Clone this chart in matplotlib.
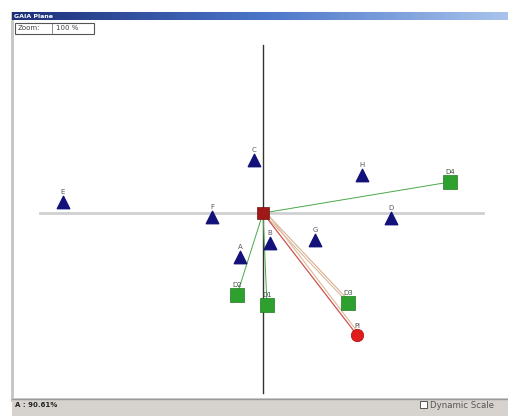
import numpy as np
import matplotlib
matplotlib.use("Agg")
import matplotlib.pyplot as plt
from matplotlib.patches import Rectangle
from matplotlib.colors import LinearSegmentedColormap

# GAIA plane coordinates (arbitrary plane units)
criteria = ["A", "B", "C", "D", "E", "F", "G", "H"]
crit_x = [-23, 7, -9, 128, -200, -51, 52, 99]
crit_y = [-44, -30, 53, -5, 11, -4, -27, 38]

dms = ["D1", "D2", "D3", "D4"]
dm_x = [4, -26, 85, 187]
dm_y = [-92, -82, -90, 31]
dm_line_colors = ["#4aa84a", "#4aa84a", "#d8b090", "#4aa84a"]

pi_label = "Pi"
pi_x, pi_y = 94, -122

delta_text = "A : 90.61%"
zoom_label = "Zoom:"
zoom_value = "100 %"

W, H = 508, 416
fig = plt.figure(figsize=(W / 100, H / 100), dpi=100)
fig.patch.set_facecolor("white")

# chrome axes in pixel coordinates
axc = fig.add_axes([0, 0, 1, 1])
axc.set_xlim(0, W)
axc.set_ylim(H, 0)
axc.axis("off")

axc.add_patch(Rectangle((12, 12), W - 12, 388, facecolor="white", edgecolor="none"))
axc.add_patch(Rectangle((11, 12), 3, 390, facecolor="#c8c8c8", edgecolor="none"))
grad = np.linspace(0, 1, 256).reshape(1, -1)
cm = LinearSegmentedColormap.from_list("tb", ["#1c2f78", "#4a74c8", "#a8c4ec"])
axc.imshow(grad, extent=(12, W, 20, 12), aspect="auto", cmap=cm, zorder=1)
axc.text(14, 16, "GAIA Plane", fontsize=4.5, color="white", fontweight="bold",
         va="center", ha="left", zorder=2)
# zoom box
axc.add_patch(Rectangle((15, 23), 79, 11, facecolor="white", edgecolor="#555555", lw=0.8, zorder=2))
axc.plot([52, 52], [24, 33], color="#777777", lw=0.6, zorder=3)
axc.text(18, 28.5, zoom_label, fontsize=5, color="#444444", va="center", ha="left", zorder=3)
axc.text(56, 28.5, zoom_value, fontsize=5, color="#444444", va="center", ha="left", zorder=3)
# status bar
axc.add_patch(Rectangle((12, 398), W - 12, 18, facecolor="#d6d3ce", edgecolor="none", zorder=1))
axc.plot([12, W], [399, 399], color="#9a9a9a", lw=1, zorder=2)
axc.text(15, 405, delta_text, fontsize=5, color="#222222", fontweight="bold",
         va="center", ha="left", zorder=3)
axc.add_patch(Rectangle((420, 401), 7, 7, facecolor="white", edgecolor="#555555", lw=0.7, zorder=3))
axc.text(430, 405, "Dynamic Scale", fontsize=6.2, color="#555555", va="center", ha="left", zorder=3)

# data axes
ax = fig.add_axes([0, 0, 1, 1])
ax.patch.set_alpha(0)
ax.set_xlim(-263, 245)
ax.set_ylim(-203, 213)
ax.axis("off")

ax.plot([-223, 220], [0, 0], color="#d0d0d0", lw=2, zorder=1)
ax.plot([0, 0], [-180, 168], color="#333333", lw=1, zorder=2)

for x, y, c in zip(dm_x, dm_y, dm_line_colors):
    ax.plot([0, x], [0, y], color=c, lw=0.7, zorder=3)
    if c != "#4aa84a":
        ax.plot([3, x + 3], [0, y], color=c, lw=0.8, zorder=3)
ax.plot([0, pi_x], [0, pi_y], color="#d05050", lw=0.9, zorder=3)
ax.plot([4, pi_x + 3], [0, pi_y], color="#e0c0a0", lw=0.9, zorder=3)

ax.scatter(crit_x, crit_y, marker="^", s=80, color="#12127a", zorder=5)
for n, x, y in zip(criteria, crit_x, crit_y):
    ax.text(x, y + 10, n, fontsize=5, color="#555566", ha="center", va="center", zorder=6)

ax.scatter(dm_x, dm_y, marker="s", s=90, color="#2ea02e", edgecolors="#1f7a1f", lw=0.5, zorder=5)
for n, x, y in zip(dms, dm_x, dm_y):
    ax.text(x, y + 10, n, fontsize=5, color="#445544", ha="center", va="center", zorder=6)

ax.scatter([pi_x], [pi_y], marker="o", s=80, color="#e01c1c", edgecolors="#a01010", lw=0.5, zorder=5)
ax.text(pi_x, pi_y + 9, pi_label, fontsize=5, color="#554444", ha="center", va="center", zorder=6)

ax.scatter([0], [0], marker="s", s=70, color="#a01818", edgecolors="#701010", lw=0.5, zorder=7)

fig.savefig("out.png", dpi=100)
